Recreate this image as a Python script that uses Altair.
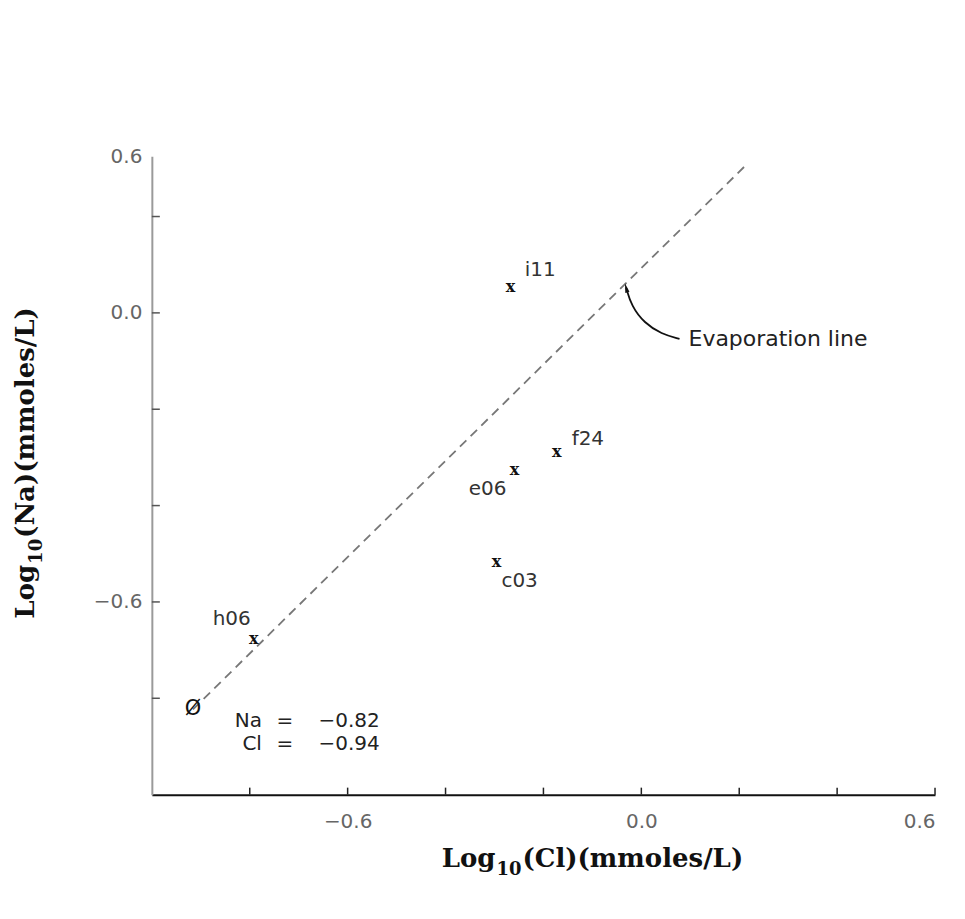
import altair as alt
import pandas as pd

# ---- data ----
sample_ids = ["i11", "f24", "e06", "c03", "h06"]
log_cl = [-0.267, -0.173, -0.259, -0.296, -0.792]
log_na = [0.054, -0.288, -0.327, -0.518, -0.676]

origin_cl = [-0.916]
origin_na = [-0.823]
origin_names = ["Na", "Cl"]
origin_values = ["−0.82", "−0.94"]

evap_cl = [-0.916, 0.212]
evap_na = [-0.823, 0.305]

arrow_cl = [-0.031, -0.020, 0.006, 0.041, 0.078]
arrow_na = [0.052, 0.014, -0.021, -0.044, -0.054]
arrow_text = ["Evaporation line"]

x_ticks = [-0.8, -0.6, -0.4, -0.2, 0.0, 0.2, 0.4, 0.6]
y_ticks = [-0.8, -0.6, -0.4, -0.2, 0.0, 0.2]
x_label_values = [-0.6, 0.0, 0.6]
y_label_values = [-0.6, 0.0, 0.325]
y_top_label = "0.6"

x_title_parts = ["Log", "10", "(Cl)(mmoles/L)"]
y_title_parts = ["Log", "10", "(Na)(mmoles/L)"]

x_domain = [-1.0, 0.6]
y_domain = [-1.0, 0.325]

W, H = 784, 639
SANS = "DejaVu Sans"
SERIF = "DejaVu Serif"

pts = pd.DataFrame({"id": sample_ids, "cl": log_cl, "na": log_na})
origin = pd.DataFrame({"cl": origin_cl, "na": origin_na, "sym": ["Ø"]})
evap = pd.DataFrame({"cl": evap_cl, "na": evap_na, "i": range(len(evap_cl))})
arrow = pd.DataFrame({"cl": arrow_cl, "na": arrow_na, "i": range(len(arrow_cl))})
xt = pd.DataFrame({"cl": x_ticks})
yt = pd.DataFrame({"na": y_ticks})

xs = alt.Scale(domain=x_domain, nice=False, zero=False)
ys = alt.Scale(domain=y_domain, nice=False, zero=False)

x_axis = alt.Axis(
    values=x_label_values, format=".1f", ticks=False, tickSize=0, grid=False,
    domainColor="#111", domainWidth=2,
    labelFont=SANS, labelFontSize=20, labelColor="#666", labelPadding=17,
    title=None,
)
y_axis = alt.Axis(
    values=y_label_values,
    labelExpr=f"datum.value > 0.3 ? '{y_top_label}' : format(datum.value, '.1f')",
    ticks=False, tickSize=0, grid=False,
    domainColor="#9a9a9a", domainWidth=2,
    labelFont=SANS, labelFontSize=20, labelColor="#666", labelPadding=10,
    title=None,
)


def X():
    return alt.X("cl:Q", scale=xs, axis=x_axis)


def Y():
    return alt.Y("na:Q", scale=ys, axis=y_axis)


x_tick_marks = alt.Chart(xt).mark_rule(color="#222", strokeWidth=1.5).encode(
    x=X(), y=alt.value(H), y2=alt.value(H - 7),
)
y_tick_marks = alt.Chart(yt).mark_rule(color="#555", strokeWidth=1.5).encode(
    y=Y(), x=alt.value(0), x2=alt.value(8),
)

evap_line = alt.Chart(evap).mark_line(
    color="#777", strokeWidth=1.8, strokeDash=[9, 6]
).encode(x=X(), y=Y(), order="i:Q")

arrow_line = alt.Chart(arrow).mark_line(
    color="#111", strokeWidth=1.8, interpolate="basis"
).encode(x=X(), y=Y(), order="i:Q")

arrow_head = alt.Chart(arrow.iloc[[0]]).mark_point(
    shape="M0,-1L0.45,1L-0.45,1Z", filled=True, color="#111", size=90,
    angle=345, opacity=1,
).encode(x=X(), y=Y())

arrow_label = alt.Chart(
    pd.DataFrame({"cl": [arrow_cl[-1]], "na": [arrow_na[-1]], "t": arrow_text})
).mark_text(
    font=SANS, fontSize=22, color="#222", align="left", baseline="middle", dx=9
).encode(x=X(), y=Y(), text="t:N")

markers = alt.Chart(pts).mark_text(
    text="x", font=SERIF, fontWeight="bold", fontSize=16, color="#111",
    baseline="middle", align="center",
).encode(x=X(), y=Y())

label_style = {
    "i11": (14, -17, "left"),
    "f24": (15, -13, "left"),
    "e06": (-27, 19, "center"),
    "c03": (5, 19, "left"),
    "h06": (-22, -20, "center"),
}
label_layers = []
for sid, (dx, dy, al) in label_style.items():
    label_layers.append(
        alt.Chart(pts).transform_filter(alt.datum.id == sid).mark_text(
            font=SANS, fontSize=20, color="#333", align=al, baseline="middle",
            dx=dx, dy=dy,
        ).encode(x=X(), y=Y(), text="id:N")
    )

origin_mark = alt.Chart(origin).mark_text(
    font=SANS, fontSize=21, color="#111", baseline="middle", align="center"
).encode(x=X(), y=Y(), text="sym:N")

origin_text_layers = []
for i, (nm, val) in enumerate(zip(origin_names, origin_values)):
    dfo = pd.DataFrame({"cl": origin_cl, "na": origin_na, "nm": [nm], "eq": ["="], "val": [val]})
    dy = 12 + 23 * i
    origin_text_layers += [
        alt.Chart(dfo).mark_text(font=SANS, fontSize=20, color="#222", align="right",
                                 baseline="middle", dx=69, dy=dy).encode(x=X(), y=Y(), text="nm:N"),
        alt.Chart(dfo).mark_text(font=SANS, fontSize=20, color="#222", align="center",
                                 baseline="middle", dx=92, dy=dy).encode(x=X(), y=Y(), text="eq:N"),
        alt.Chart(dfo).mark_text(font=SANS, fontSize=20, color="#222", align="right",
                                 baseline="middle", dx=187, dy=dy).encode(x=X(), y=Y(), text="val:N"),
    ]

# axis titles with a real subscript "10"
title_df = pd.DataFrame({"a": [x_title_parts[0]], "b": [x_title_parts[1]], "c": [x_title_parts[2]],
                         "ya": [y_title_parts[0]], "yb": [y_title_parts[1]], "yc": [y_title_parts[2]]})
XT_X, XT_Y = 344, 711      # anchor in plot pixels (below the plot)
YT_X, YT_Y = -118, 409     # anchor in plot pixels (left of the plot)
title_style = dict(font=SERIF, fontWeight="bold", color="#111", baseline="alphabetic")
title_layers = [
    alt.Chart(title_df).mark_text(align="right", fontSize=26, **title_style).encode(
        x=alt.value(XT_X), y=alt.value(XT_Y), text="a:N"),
    alt.Chart(title_df).mark_text(align="left", fontSize=18, dx=1, dy=8, **title_style).encode(
        x=alt.value(XT_X), y=alt.value(XT_Y), text="b:N"),
    alt.Chart(title_df).mark_text(align="left", fontSize=26, dx=27, **title_style).encode(
        x=alt.value(XT_X), y=alt.value(XT_Y), text="c:N"),
    alt.Chart(title_df).mark_text(align="right", fontSize=26, angle=270, **title_style).encode(
        x=alt.value(YT_X), y=alt.value(YT_Y), text="ya:N"),
    alt.Chart(title_df).mark_text(align="left", fontSize=18, angle=270, dx=1, dy=8, **title_style).encode(
        x=alt.value(YT_X), y=alt.value(YT_Y), text="yb:N"),
    alt.Chart(title_df).mark_text(align="left", fontSize=26, angle=270, dx=27, **title_style).encode(
        x=alt.value(YT_X), y=alt.value(YT_Y), text="yc:N"),
]

chart = alt.layer(
    x_tick_marks, y_tick_marks, evap_line, arrow_line, arrow_head,
    arrow_label, markers, *label_layers, origin_mark, *origin_text_layers,
    *title_layers,
).properties(
    width=W, height=H,
    autosize="none",
    padding={"left": 144, "top": 148, "right": 22, "bottom": 90},
    background="white",
).configure_view(stroke=None)

chart.save("out.html", embed_options={"renderer": "svg", "actions": False})
